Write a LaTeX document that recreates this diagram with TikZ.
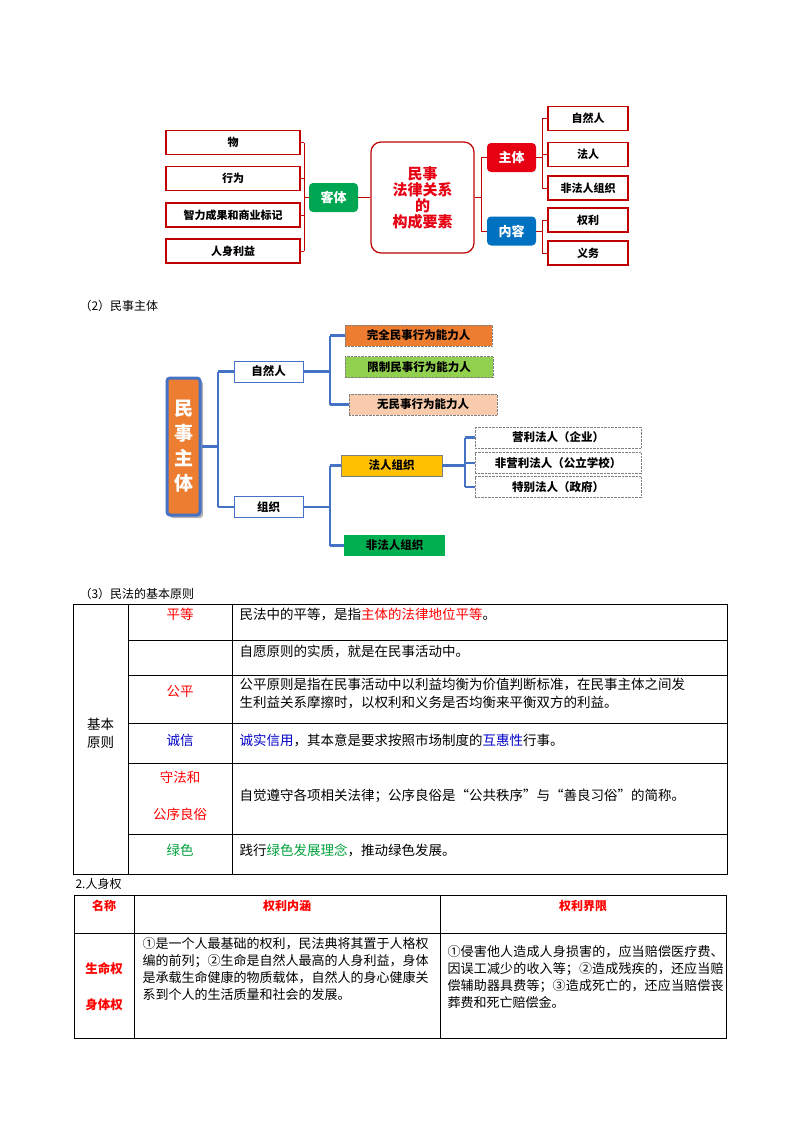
\documentclass[tikz,border=0pt]{standalone}
\usepackage{fontspec}
\setmainfont{Noto Sans CJK SC}
\XeTeXlinebreaklocale "zh"
\XeTeXlinebreakskip=0pt plus 1pt
\usetikzlibrary{shadows}
\definecolor{tred}{RGB}{192,0,0}
\definecolor{bred}{RGB}{230,0,18}
\definecolor{gbox}{RGB}{0,166,81}
\definecolor{bblue}{RGB}{0,112,192}
\definecolor{lblue}{RGB}{68,114,196}
\definecolor{orng}{RGB}{237,125,49}
\definecolor{lgrn}{RGB}{146,208,80}
\definecolor{peach}{RGB}{248,203,173}
\definecolor{yel}{RGB}{255,192,0}
\definecolor{dgrn}{RGB}{0,176,80}
\definecolor{fblue}{RGB}{0,0,200}
\definecolor{fgrn}{RGB}{0,160,60}
\begin{document}
\begin{tikzpicture}[x=1pt,y=-1pt,
 leaf/.style={draw=tred,line width=1.2pt,fill=white,minimum width=134pt,minimum height=24pt,font=\fontsize{11}{12}\selectfont\bfseries},
 rleaf/.style={leaf,minimum width=80pt},
 mid/.style={rounded corners=4pt,minimum width=49pt,minimum height=29pt,text=white,font=\fontsize{13}{14}\selectfont\bfseries},
 rl/.style={draw=tred,line width=1pt},
 bl/.style={draw=lblue,line width=2.2pt},
 sbox/.style={minimum height=21pt,font=\fontsize{11.5}{12}\selectfont\bfseries},
 dbox/.style={sbox,draw=gray,densely dotted,fill=white,minimum width=166pt},
 grid/.style={draw=black,line width=0.7pt},
 tt/.style={font=\fontsize{13.5}{18}\selectfont,anchor=west},
 t2/.style={font=\fontsize{13}{17}\selectfont}]
\useasboundingbox (0,0) rectangle (800,1132);
% ---------- top diagram
\node[leaf] (w1) at (233,142.5) {物};
\node[leaf] (w2) at (233,178.5) {行为};
\node[leaf] (w3) at (233,215) {智力成果和商业标记};
\node[leaf] (w4) at (233,251) {人身利益};
\node[mid,fill=gbox] (kt) at (333.5,197.5) {客体};
\node[draw=tred,line width=1.2pt,rounded corners=10pt,minimum width=103pt,minimum height=111pt,text=bred,align=center,font=\fontsize{15}{16}\selectfont\bfseries] (c) at (422.5,197.5) {民事\\法律关系\\的\\构成要素};
\node[mid,fill=bred] (zt) at (511.5,157.5) {主体};
\node[mid,fill=bblue] (nr) at (511.5,231) {内容};
\node[rleaf] (r1) at (588,118.5) {自然人};
\node[rleaf] (r2) at (588,154.5) {法人};
\node[rleaf] (r3) at (588,188) {非法人组织};
\node[rleaf] (r4) at (588,220) {权利};
\node[rleaf] (r5) at (588,253) {义务};
\coordinate (lb) at (304,0);
\foreach \n in {w1,w2,w3,w4} \draw[rl] (\n.east) -- (\n.east -| lb);
\draw[rl] (w1.east -| lb) -- (w4.east -| lb);
\draw[rl] (kt.west) -- (kt.west -| lb);
\draw[rl] (kt) -- (c);
\coordinate (cb) at (481,0);
\draw[rl] (c.east) -- (c.east -| cb);
\draw[rl] (zt.west -| cb) -- (nr.west -| cb);
\draw[rl] (zt.west) -- (zt.west -| cb);
\draw[rl] (nr.west) -- (nr.west -| cb);
\coordinate (zb) at (542,0);
\draw[rl] (r1.west -| zb) -- (r3.west -| zb);
\foreach \n in {r1,r2,r3} \draw[rl] (\n.west) -- (\n.west -| zb);
\draw[rl] (zt) -- (zt.east -| zb);
\draw[rl] (r4.west -| zb) -- (r5.west -| zb);
\foreach \n in {r4,r5} \draw[rl] (\n.west) -- (\n.west -| zb);
\draw[rl] (nr) -- (nr.east -| zb);
% ---------- middle diagram
\node[anchor=west,font=\fontsize{12}{14}\selectfont] (h2) at (76,306) {（2）民事主体};
\node[fill=orng,draw=lblue,line width=3pt,rounded corners=3pt,minimum width=33pt,minimum height=137pt,text=white,align=center,font=\fontsize{19}{25}\selectfont\bfseries,drop shadow={opacity=0.6,shadow xshift=3pt,shadow yshift=-3pt}] (ms) at (183.5,446.5) {民\\事\\主\\体};
\node[sbox,draw=lblue,line width=0.8pt,fill=white,minimum width=69pt] (zr) at (268.5,371.5) {自然人};
\node[sbox,draw=lblue,line width=0.8pt,fill=white,minimum width=69pt] (zz) at (268.5,507) {组织};
\node[sbox,fill=orng,draw=gray,densely dotted,minimum width=147pt] (a1) at (418.5,335.5) {完全民事行为能力人};
\node[sbox,fill=lgrn,draw=gray,densely dotted,minimum width=148pt] (a2) at (419,367) {限制民事行为能力人};
\node[sbox,fill=peach,draw=gray,densely dotted,minimum width=148pt] (a3) at (423,404.5) {无民事行为能力人};
\node[sbox,fill=yel,draw=gray,line width=0.6pt,minimum width=101pt] (fr) at (391.5,465.5) {法人组织};
\node[sbox,fill=dgrn,minimum width=101pt] (ff) at (394.5,545.5) {非法人组织};
\node[dbox] (b1) at (558,437.5) {营利法人（企业）};
\node[dbox] (b2) at (558,463) {非营利法人（公立学校）};
\node[dbox] (b3) at (558,487) {特别法人（政府）};
\coordinate (m1) at (218,0);
\draw[bl] (ms.east) -- (ms.east -| m1);
\draw[bl] (zr.west -| m1) -- (zz.west -| m1);
\draw[bl] (zr.west) -- (zr.west -| m1);
\draw[bl] (zz.west) -- (zz.west -| m1);
\coordinate (m2) at (330,0);
\draw[bl] (zr.east) -- (zr.east -| m2);
\draw[bl] (m2 |- a1.west) -- (m2 |- a3.west);
\draw[bl] (a1.west) -- (a1.west -| m2);
\draw[bl] (a3.west) -- (a3.west -| m2);
\draw[bl] (zz.east) -- (zz.east -| m2);
\draw[bl] (m2 |- fr.west) -- (m2 |- ff.west);
\draw[bl] (fr.west) -- (fr.west -| m2);
\draw[bl] (ff.west) -- (ff.west -| m2);
\coordinate (m3) at (465,0);
\draw[bl] (fr.east) -- (fr.east -| m3);
\draw[bl] (m3 |- b1.west) -- (m3 |- b3.west);
\draw[bl] (b1.west) -- (b1.west -| m3);
\draw[bl] (b2.west) -- (b2.west -| m3);
\draw[bl] (b3.west) -- (b3.west -| m3);
% ---------- table 1
\node[anchor=west,font=\fontsize{12}{14}\selectfont] (h3) at (76,594) {（3）民法的基本原则};
\draw[grid] (73,604) rectangle (727,874);
\draw[grid] (128,604) -- (128,874) (232,604) -- (232,874);
\foreach \y in {640,675,723,763,834} \draw[grid] (128,\y) -- (727,\y);
\node[align=center,font=\fontsize{13.5}{18}\selectfont] (jb) at (100.5,733) {基本\\原则};
\node[text=red,font=\fontsize{13.5}{17}\selectfont] (p1) at (180,614) {平等};
\node[text=red,font=\fontsize{13.5}{17}\selectfont] (p3) at (180,691) {公平};
\node[text=fblue,font=\fontsize{13.5}{17}\selectfont] (p4) at (180,740) {诚信};
\node[text=red,align=center,font=\fontsize{13.5}{37}\selectfont] (p5) at (180,796) {守法和\\公序良俗};
\node[text=fgrn,font=\fontsize{13.5}{17}\selectfont] (p6) at (180,850) {绿色};
\node[tt] (q1) at (236,614) {民法中的平等，是指\textcolor{red}{主体的法律地位平等}。};
\node[tt] (q2) at (236,651) {自愿原则的实质，就是在民事活动中。};
\node[tt,align=left] (q3) at (236,694) {公平原则是指在民事活动中以利益均衡为价值判断标准，在民事主体之间发\\生利益关系摩擦时，以权利和义务是否均衡来平衡双方的利益。};
\node[tt] (q4) at (236,740) {\textcolor{fblue}{诚实信用}，其本意是要求按照市场制度的\textcolor{fblue}{互惠性}行事。};
\node[tt] (q5) at (236,796) {自觉遵守各项相关法律；公序良俗是“公共秩序”与“善良习俗”的简称。};
\node[tt] (q6) at (236,850) {践行\textcolor{fgrn}{绿色发展理念}，推动绿色发展。};
% ---------- table 2
\node[anchor=west,font=\fontsize{12}{14}\selectfont] (h4) at (72,884) {2.人身权};
\draw[grid,line width=1pt] (74,895) rectangle (726,1038);
\draw[grid] (74,933) -- (726,933) (134,895) -- (134,1038) (440,895) -- (440,1038);
\node[text=red,font=\fontsize{12}{14}\selectfont\bfseries] (n1) at (104,906) {名称};
\node[text=red,font=\fontsize{12}{14}\selectfont\bfseries] (n2) at (287,906) {权利内涵};
\node[text=red,font=\fontsize{12}{14}\selectfont\bfseries] (n3) at (583,906) {权利界限};
\node[text=red,align=center,font=\fontsize{12.5}{36}\selectfont\bfseries] (n4) at (104,987) {生命权\\身体权};
\node[t2,anchor=north west,text width=286pt,align=justify] (c1) at (139,934) {①是一个人最基础的权利，民法典将其置于人格权编的前列；②生命是自然人最高的人身利益，身体是承载生命健康的物质载体，自然人的身心健康关系到个人的生活质量和社会的发展。};
\node[t2,anchor=north west,text width=276pt,align=justify] (c2) at (444,942) {①侵害他人造成人身损害的，应当赔偿医疗费、因误工减少的收入等；②造成残疾的，还应当赔偿辅助器具费等；③造成死亡的，还应当赔偿丧葬费和死亡赔偿金。};
\end{tikzpicture}
\end{document}
